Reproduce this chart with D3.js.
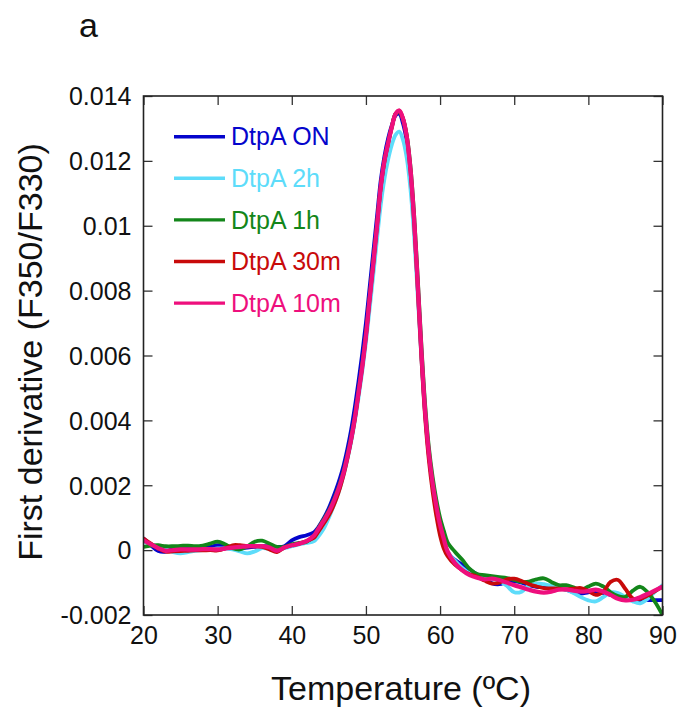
<!DOCTYPE html>
<html>
<head>
<meta charset="utf-8">
<script src="https://cdn.jsdelivr.net/npm/d3@7"></script>
<style>
  html, body { margin: 0; padding: 0; background: #fff; }
  svg { display: block; font-family: "Liberation Sans", Arial, Helvetica, sans-serif; }
</style>
</head>
<body>
<svg id="chart" width="681" height="711"></svg>
<script>
// Temperature grid (ºC): 1º steps on the baselines, 0.5º steps across the melting peak
const temps = [
  20, 21, 22, 23, 24, 25, 26, 27, 28, 29, 30, 31, 32, 33, 34, 35, 36, 37, 38, 39, 40, 41, 42, 43,
  43.5, 44, 44.5, 45, 45.5, 46, 46.5, 47, 47.5, 48, 48.5, 49, 49.5, 50, 50.5, 51, 51.5, 52, 52.5,
  53, 53.5, 54, 54.5, 55, 55.5, 56, 56.5, 57, 57.5, 58, 58.5, 59, 59.5, 60, 60.5, 61,
  62, 63, 64, 65, 66, 67, 68, 69, 70, 71, 72, 73, 74, 75, 76, 77, 78, 79, 80, 81, 82, 83, 84, 85, 86, 87, 88, 89, 90
];

// First derivative of F350/F330, in units of 1e-3
const dtpaON = [
  0.36, 0.15, -0.03, -0.05, 0.05, 0.10, 0.07, 0.05, 0.05, 0.10, 0.15, 0.14, 0.08, 0.06, 0.08, 0.10, 0.12, 0.12, 0.10, 0.12, 0.30, 0.40, 0.46, 0.55,
  0.68, 0.86, 1.06, 1.30, 1.58, 1.88, 2.22, 2.62, 3.12, 3.70, 4.40, 5.20, 6.05, 7.00, 8.10, 9.20, 10.30, 11.40, 12.15,
  12.70, 13.10, 13.40, 13.45, 13.15, 12.60, 11.60, 10.10, 8.10, 6.00, 4.20, 2.95, 2.00, 1.30, 0.70, 0.25, -0.08,
  -0.30, -0.45, -0.60, -0.75, -0.85, -1.02, -1.05, -0.98, -0.96, -1.00, -1.08, -1.13, -1.14, -1.16, -1.18, -1.22, -1.30, -1.34, -1.30, -1.28, -1.32, -1.38, -1.45, -1.49, -1.52, -1.54, -1.54, -1.54, -1.54
];
const dtpa2h = [
  0.26, 0.18, 0.10, 0.02, -0.06, -0.10, -0.06, -0.02, 0.00, 0.02, 0.05, 0.05, 0.02, -0.04, -0.10, -0.04, 0.06, 0.04, 0.00, 0.06, 0.12, 0.18, 0.22, 0.28,
  0.40, 0.55, 0.75, 1.00, 1.28, 1.58, 1.92, 2.32, 2.80, 3.33, 3.97, 4.70, 5.50, 6.40, 7.45, 8.50, 9.60, 10.65, 11.45,
  12.05, 12.50, 12.80, 12.90, 12.65, 12.10, 11.15, 9.70, 7.80, 5.85, 4.15, 2.90, 2.00, 1.30, 0.72, 0.30, -0.05,
  -0.32, -0.55, -0.72, -0.82, -0.86, -0.88, -0.95, -1.10, -1.30, -1.28, -1.08, -1.03, -1.05, -1.10, -1.15, -1.22, -1.32, -1.45, -1.55, -1.58, -1.45, -1.30, -1.32, -1.45, -1.58, -1.64, -1.50, -1.28, -1.08
];
const dtpa1h = [
  0.10, 0.14, 0.15, 0.12, 0.12, 0.13, 0.14, 0.12, 0.14, 0.20, 0.26, 0.18, 0.06, 0.02, 0.12, 0.26, 0.29, 0.20, 0.10, 0.10, 0.18, 0.22, 0.26, 0.45,
  0.64, 0.84, 1.02, 1.22, 1.46, 1.74, 2.06, 2.44, 2.92, 3.47, 4.10, 4.90, 5.70, 6.65, 7.80, 8.90, 10.05, 11.20, 12.00,
  12.55, 13.05, 13.45, 13.50, 13.30, 12.80, 11.85, 10.35, 8.35, 6.25, 4.45, 3.15, 2.25, 1.55, 1.00, 0.60, 0.25,
  -0.05, -0.30, -0.58, -0.74, -0.77, -0.80, -0.83, -0.86, -0.92, -0.98, -0.97, -0.90, -0.87, -0.98, -1.08, -1.08, -1.15, -1.22, -1.12, -1.03, -1.12, -1.30, -1.42, -1.44, -1.25, -1.13, -1.30, -1.60, -2.00
];
const dtpa30m = [
  0.36, 0.20, 0.05, -0.05, -0.04, -0.03, -0.02, -0.01, -0.01, 0.00, -0.01, 0.05, 0.15, 0.15, 0.12, 0.12, 0.10, 0.02, -0.06, 0.08, 0.15, 0.20, 0.28, 0.38,
  0.54, 0.71, 0.88, 1.07, 1.30, 1.58, 1.92, 2.33, 2.82, 3.38, 4.03, 4.83, 5.65, 6.60, 7.75, 8.85, 10.00, 11.20, 12.00,
  12.55, 13.05, 13.45, 13.55, 13.30, 12.75, 11.70, 10.10, 8.00, 5.85, 4.05, 2.75, 1.80, 1.05, 0.45, 0.05, -0.18,
  -0.45, -0.62, -0.74, -0.82, -0.94, -1.03, -1.00, -0.90, -0.88, -0.95, -1.05, -1.12, -1.17, -1.18, -1.19, -1.21, -1.19, -1.17, -1.26, -1.38, -1.28, -0.98, -0.92, -1.20, -1.49, -1.50, -1.40, -1.26, -1.13
];
const dtpa10m = [
  0.30, 0.18, 0.06, -0.02, 0.00, 0.02, 0.02, 0.02, 0.03, 0.03, 0.02, 0.05, 0.08, 0.10, 0.12, 0.12, 0.12, 0.08, -0.02, 0.08, 0.15, 0.20, 0.28, 0.45,
  0.62, 0.80, 0.98, 1.18, 1.42, 1.70, 2.02, 2.40, 2.88, 3.42, 4.07, 4.85, 5.65, 6.60, 7.75, 8.85, 10.00, 11.20, 12.00,
  12.55, 13.05, 13.45, 13.55, 13.30, 12.75, 11.75, 10.20, 8.15, 6.05, 4.25, 2.97, 2.05, 1.35, 0.78, 0.35, -0.03,
  -0.40, -0.62, -0.77, -0.85, -0.90, -0.88, -0.92, -1.00, -1.08, -1.15, -1.22, -1.28, -1.31, -1.28, -1.22, -1.21, -1.25, -1.28, -1.26, -1.22, -1.28, -1.38, -1.50, -1.55, -1.53, -1.45, -1.35, -1.24, -1.13
];

const seriesNames = ["DtpA ON", "DtpA 2h", "DtpA 1h", "DtpA 30m", "DtpA 10m"];
const seriesValues = [dtpaON, dtpa2h, dtpa1h, dtpa30m, dtpa10m];
const seriesColors = ["#0505cc", "#5ddcfa", "#13861a", "#c80a0a", "#ee0f7d"];

const xTicks = [20, 30, 40, 50, 60, 70, 80, 90];
const yTicks = [-0.002, 0, 0.002, 0.004, 0.006, 0.008, 0.01, 0.012, 0.014];
const yTickLabels = ["-0.002", "0", "0.002", "0.004", "0.006", "0.008", "0.01", "0.012", "0.014"];

const svg = d3.select("#chart");
const plot = { left: 143.5, right: 662.5, top: 96, bottom: 615 };

const x = d3.scaleLinear().domain([20, 90]).range([plot.left, plot.right]);
const y = d3.scaleLinear().domain([-0.002, 0.014]).range([plot.bottom, plot.top]);

// clip the traces to the frame
svg.append("defs").append("clipPath").attr("id", "plotClip")
  .append("rect")
  .attr("x", plot.left).attr("y", plot.top)
  .attr("width", plot.right - plot.left).attr("height", plot.bottom - plot.top);

// traces
const line = d3.line()
  .x(d => x(d[0]))
  .y(d => y(d[1] * 1e-3))
  .curve(d3.curveCatmullRom.alpha(0.5));

const traces = svg.append("g").attr("clip-path", "url(#plotClip)");
seriesValues.forEach((vals, i) => {
  traces.append("path")
    .datum(temps.map((t, j) => [t, vals[j]]))
    .attr("fill", "none")
    .attr("stroke", seriesColors[i])
    .attr("stroke-width", i === 4 ? 4.3 : 3.8)
    .attr("stroke-linejoin", "round")
    .attr("stroke-linecap", "round")
    .attr("d", line);
});

// axes with inward ticks on all four sides
const tickLen = 9;
const tickFont = 25;

const bottomAxis = svg.append("g")
  .attr("transform", `translate(0,${plot.bottom})`)
  .call(d3.axisBottom(x).tickValues(xTicks).tickSizeInner(-tickLen).tickSizeOuter(0).tickPadding(11).tickFormat(d3.format("d")));
const topAxis = svg.append("g")
  .attr("transform", `translate(0,${plot.top})`)
  .call(d3.axisTop(x).tickValues(xTicks).tickSizeInner(-tickLen).tickSizeOuter(0).tickFormat(""));
const leftAxis = svg.append("g")
  .attr("transform", `translate(${plot.left},0)`)
  .call(d3.axisLeft(y).tickValues(yTicks).tickSizeInner(-tickLen).tickSizeOuter(0).tickPadding(12)
    .tickFormat((d, i) => yTickLabels[i]));
const rightAxis = svg.append("g")
  .attr("transform", `translate(${plot.right},0)`)
  .call(d3.axisRight(y).tickValues(yTicks).tickSizeInner(-tickLen).tickSizeOuter(0).tickFormat(""));

[bottomAxis, topAxis, leftAxis, rightAxis].forEach(g => {
  g.select(".domain").remove();
  g.selectAll(".tick line").attr("stroke", "#333").attr("stroke-width", 1.3);
  g.selectAll(".tick text")
    .attr("fill", "#111")
    .style("font-size", tickFont + "px")
    .style("font-family", "'Liberation Sans', Arial, Helvetica, sans-serif");
});
leftAxis.selectAll(".tick text").attr("dy", "0.35em");
bottomAxis.selectAll(".tick text").attr("dy", "0.71em");

// frame
svg.append("rect")
  .attr("x", plot.left).attr("y", plot.top)
  .attr("width", plot.right - plot.left).attr("height", plot.bottom - plot.top)
  .attr("fill", "none").attr("stroke", "#222").attr("stroke-width", 1.6);

// axis titles
svg.append("text")
  .attr("x", 401).attr("y", 700)
  .attr("text-anchor", "middle")
  .style("font-size", "34px").attr("fill", "#111")
  .text("Temperature (ºC)");

svg.append("text")
  .attr("transform", `translate(42,352) rotate(-90)`)
  .attr("text-anchor", "middle")
  .style("font-size", "34px").attr("fill", "#111")
  .text("First derivative (F350/F330)");

// panel letter
svg.append("text")
  .attr("x", 79).attr("y", 37)
  .style("font-size", "34px").attr("fill", "#111")
  .text("a");

// legend
const legend = svg.append("g");
seriesNames.forEach((name, i) => {
  const ly = 136.7 + i * 41.6;
  legend.append("line")
    .attr("x1", 174).attr("x2", 225)
    .attr("y1", ly).attr("y2", ly)
    .attr("stroke", seriesColors[i]).attr("stroke-width", 3.4);
  legend.append("text")
    .attr("x", 231).attr("y", ly)
    .attr("dy", "0.35em")
    .style("font-size", "25px")
    .attr("fill", seriesColors[i])
    .text(name);
});
</script>
</body>
</html>
